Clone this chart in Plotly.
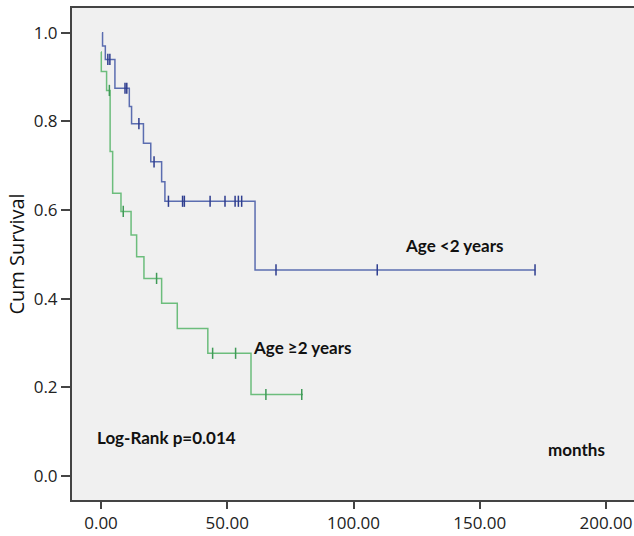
import plotly.graph_objects as go

# Age <2 years (blue)
blue_times = [0.4, 0.6, 1.7, 5.5, 11.2, 12.1, 16.8, 19.7, 24.0, 25.3, 61.0]
blue_surv = [1.0, 0.97, 0.94, 0.875, 0.834, 0.795, 0.751, 0.709, 0.664, 0.62, 0.465]
blue_end = 172.0
blue_censor = [2.7, 3.5, 9.5, 10.2, 15.0, 21.0, 26.7, 32.3, 33.0, 43.2, 49.1, 53.1, 54.4, 55.7, 69.3, 109.4, 171.9]

# Age >=2 years (green)
green_times = [0.0, 0.1, 2.2, 3.6, 4.6, 7.9, 11.9, 14.1, 17.0, 24.0, 30.2, 42.3, 59.4]
green_surv = [0.957, 0.913, 0.87, 0.732, 0.638, 0.597, 0.544, 0.495, 0.446, 0.39, 0.333, 0.277, 0.184]
green_end = 80.0
green_censor = [3.3, 8.8, 22.0, 44.2, 53.3, 65.3, 79.5]

x_ticks = [0, 50, 100, 150, 200]
x_ticklabels = ["0.00", "50.00", "100.00", "150.00", "200.00"]
y_ticks = [0.0, 0.2, 0.4, 0.6, 0.8, 1.0]
y_ticklabels = ["0.0", "0.2", "0.4", "0.6", "0.8", "1.0"]


def step_value(times, surv, t):
    v = surv[0]
    for ti, si in zip(times, surv):
        if ti <= t:
            v = si
    return v


BLUE = "#5b6db0"
BLUE_D = "#2e3d8f"
GREEN = "#6cbd7c"
GREEN_D = "#3f9a57"

fig = go.Figure()
fig.add_trace(go.Scatter(
    x=blue_times + [blue_end], y=blue_surv + [blue_surv[-1]],
    mode="lines", line=dict(color=BLUE, width=1.5, shape="hv"), showlegend=False))
fig.add_trace(go.Scatter(
    x=green_times + [green_end], y=green_surv + [green_surv[-1]],
    mode="lines", line=dict(color=GREEN, width=1.5, shape="hv"), showlegend=False))
fig.add_trace(go.Scatter(
    x=blue_censor, y=[step_value(blue_times, blue_surv, t) for t in blue_censor],
    mode="markers", marker=dict(symbol="line-ns", size=8, line=dict(color=BLUE_D, width=1.5)),
    showlegend=False))
fig.add_trace(go.Scatter(
    x=green_censor, y=[step_value(green_times, green_surv, t) for t in green_censor],
    mode="markers", marker=dict(symbol="line-ns", size=8, line=dict(color=GREEN_D, width=1.5)),
    showlegend=False))

ann_fam = "Lato, 'Open Sans', sans-serif"
tick_fam = "'Open Sans', sans-serif"
ann_font = dict(family=ann_fam, size=17, color="#111111")
annotations = [
    dict(x=119.6, y=0.521, text="<b>Age &lt;2 years</b>"),
    dict(x=59.4, y=0.289, text="<b>Age ≥2 years</b>"),
    dict(x=-2.4, y=0.086, text="<b>Log-Rank p=0.014</b>"),
    dict(x=176.2, y=0.061, text="<b>months</b>"),
]
for a in annotations:
    fig.add_annotation(x=a["x"], y=a["y"], text=a["text"], showarrow=False,
                       xanchor="left", yanchor="middle", font=ann_font)

fig.update_layout(
    width=634, height=536,
    margin=dict(l=72, r=0, t=8, b=36),
    paper_bgcolor="white",
    plot_bgcolor="#f0f0f0",
    font=dict(family=tick_fam, size=17, color="#222222"),
)
fig.update_xaxes(
    range=[-11.5, 211.1], tickvals=x_ticks, ticktext=x_ticklabels,
    showgrid=False, zeroline=False, showline=True, linecolor="#444444", linewidth=2,
    mirror=True, ticks="outside", ticklen=7, tickcolor="#444444", tickwidth=2,
    tickfont=dict(family=tick_fam, size=17, color="#222222"),
)
fig.update_yaxes(
    range=[-0.054, 1.056], tickvals=y_ticks, ticktext=y_ticklabels,
    showgrid=False, zeroline=False, showline=True, linecolor="#444444", linewidth=2,
    ticks="outside", ticklen=9, tickcolor="#444444", tickwidth=2,
    tickfont=dict(family=tick_fam, size=17, color="#222222"),
    title=dict(text="Cum Survival", font=dict(family=tick_fam, size=20, color="#111111"), standoff=4),
)

fig.write_html("out.html")
